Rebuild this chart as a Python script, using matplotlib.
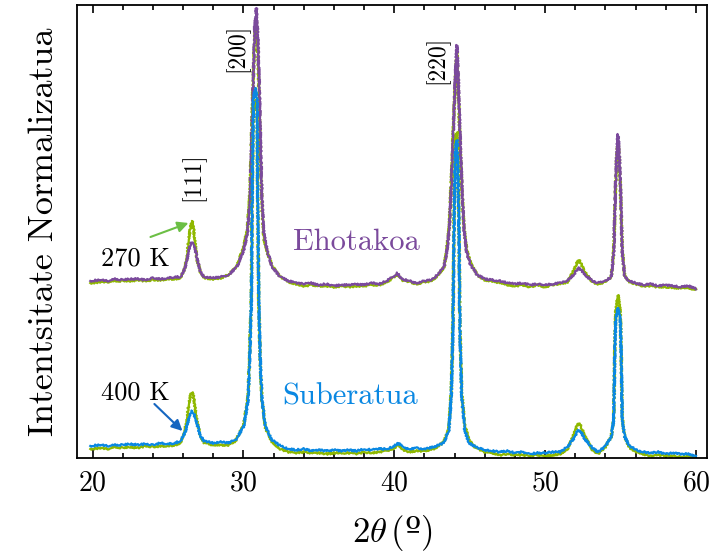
import matplotlib
matplotlib.use("Agg")
import matplotlib.pyplot as plt
from matplotlib.ticker import MultipleLocator

plt.rcParams['font.family'] = ['cmr10', 'DejaVu Serif']
plt.rcParams['mathtext.fontset'] = 'cm'
plt.rcParams['axes.unicode_minus'] = False
plt.rcParams['axes.formatter.use_mathtext'] = True

# --- goiko bikotea (270 K) ---
top_theta = [19.85, 20.5, 21, 21.5, 22, 22.5, 23, 23.5, 24, 24.5, 25, 25.5, 25.8,
             26.04, 26.23, 26.37, 26.5, 26.6, 26.7, 26.77, 26.93, 27.15, 27.4,
             28, 28.5, 29, 29.58, 30.02, 30.27, 30.44, 30.53, 30.62, 30.75, 30.86,
             30.97, 31.08, 31.15, 31.24, 31.35, 31.57, 31.9, 32.45, 33, 33.5, 34,
             34.5, 35, 35.5, 36, 36.5, 37, 37.5, 38, 38.5, 39, 39.5, 39.9, 40.2,
             40.5, 41, 41.5, 42, 42.5, 42.96, 43.3, 43.47, 43.65, 43.8, 43.92,
             44.05, 44.15, 44.25, 44.35, 44.47, 44.62, 44.8, 45.06, 45.5, 46, 46.5,
             47, 47.5, 48, 48.5, 49, 49.5, 50, 50.5, 51, 51.48, 51.92, 52.1, 52.25,
             52.4, 52.58, 53.13, 53.5, 54.0, 54.38, 54.55, 54.66, 54.75, 54.83,
             54.91, 55.0, 55.11, 55.28, 55.6, 56, 56.5, 57, 57.5, 58, 58.5, 59,
             59.5, 60]
ehotakoa = [12, 13, 12, 14, 13, 14, 14, 13, 15, 14, 15, 16, 16,
            21, 31, 43, 49, 51, 49, 46, 35, 21, 16,
            15, 16, 18, 26, 43, 60, 93, 143, 193, 266, 285,
            253, 193, 143, 93, 60, 43, 26, 16, 12, 10, 9,
            10, 8, 9, 7, 8, 8, 9, 8, 10, 9, 12, 16, 20,
            14, 12, 10, 12, 13, 20, 26, 40, 63, 113, 163,
            218, 248, 213, 163, 113, 63, 40, 28, 18, 14, 13,
            12, 10, 9, 10, 8, 9, 8, 9, 10, 12, 19, 23, 25,
            23, 19, 12, 10, 12, 16, 40, 106, 143, 159,
            143, 106, 40, 16, 12, 10, 8, 9, 7, 8, 7, 6,
            7, 4]
top_ref = [10, 11, 11, 12, 12, 12, 13, 12, 13, 13, 14, 14, 15,
           21, 33, 53, 67, 72, 65, 53, 33, 21, 15,
           14, 15, 18, 27, 47, 65, 103, 153, 203, 258, 273,
           233, 173, 128, 83, 55, 41, 27, 16, 11, 9, 7,
           8, 7, 7, 6, 7, 6, 7, 7, 8, 8, 11, 15, 19,
           13, 11, 9, 11, 12, 19, 26, 42, 68, 121, 168,
           213, 241, 198, 153, 108, 65, 43, 30, 18, 13, 12,
           10, 8, 7, 8, 6, 8, 6, 8, 9, 11, 23, 30, 33,
           29, 22, 11, 9, 11, 16, 43, 103, 138, 153,
           135, 101, 43, 17, 11, 9, 7, 7, 6, 6, 5, 5,
           5, 3]
top_offset = 165

# --- beheko bikotea (400 K) ---
bot_theta = [19.85, 20.5, 21, 21.5, 22, 22.5, 23, 23.5, 24, 24.5, 25, 25.5, 25.8,
             26.04, 26.23, 26.37, 26.5, 26.6, 26.7, 26.77, 26.93, 27.15, 27.4,
             28, 28.5, 29, 29.47, 30.02, 30.31, 30.4, 30.53, 30.58, 30.66, 30.8,
             30.91, 30.95, 31.02, 31.13, 31.24, 31.46, 31.9, 32.45, 33, 33.5, 34,
             34.5, 35, 35.5, 36, 36.5, 37, 37.5, 38, 38.5, 39, 39.5, 39.9, 40.3,
             40.6, 41, 41.5, 42, 42.63, 43.29, 43.62, 43.78, 43.89, 43.96, 44.06,
             44.15, 44.22, 44.29, 44.35, 44.47, 44.67, 44.95, 45.4, 46, 46.5, 47,
             47.5, 48, 48.5, 49, 49.5, 50, 50.5, 51, 51.48, 51.92, 52.1, 52.25,
             52.4, 52.58, 53.13, 53.5, 53.95, 54.38, 54.55, 54.62, 54.68, 54.83,
             54.98, 55.04, 55.11, 55.28, 55.6, 56.2, 56.5, 57, 57.5, 58, 58.5, 59,
             59.5, 60]
suberatua = [12, 13, 12, 13, 13, 14, 13, 14, 13, 15, 14, 15, 17,
             22, 30, 40, 45, 47, 45, 42, 34, 22, 17,
             15, 16, 15, 18, 31, 58, 91, 158, 258, 358, 370,
             358, 258, 158, 91, 58, 31, 18, 12, 9, 8, 9,
             7, 8, 7, 8, 7, 8, 7, 9, 8, 9, 9, 11, 15,
             10, 9, 10, 9, 11, 15, 28, 61, 128, 228, 308,
             318, 288, 228, 128, 61, 28, 15, 11, 8, 7, 6,
             7, 5, 6, 4, 5, 5, 6, 6, 11, 20, 26, 28,
             26, 20, 10, 6, 11, 21, 38, 105, 138, 150,
             138, 105, 38, 21, 12, 7, 6, 5, 6, 4, 5, 4,
             4, 2]
bot_ref = [9, 10, 9, 11, 10, 11, 10, 12, 11, 12, 12, 13, 15,
           22, 36, 53, 63, 66, 62, 53, 36, 22, 15,
           13, 13, 13, 17, 33, 63, 98, 168, 263, 348, 358,
           343, 253, 153, 88, 56, 30, 16, 9, 6, 5, 6,
           5, 5, 4, 5, 5, 5, 4, 6, 5, 6, 7, 9, 13,
           8, 6, 7, 7, 9, 16, 30, 68, 138, 238, 318,
           326, 298, 233, 133, 66, 33, 18, 10, 6, 5, 3,
           4, 3, 3, 2, 3, 2, 3, 4, 9, 24, 32, 35,
           31, 23, 8, 4, 10, 21, 40, 113, 148, 163,
           146, 110, 40, 21, 10, 5, 4, 2, 3, 2, 2, 1,
           2, 0]

c_green = '#8fb800'
c_purple = '#7b4a9c'
c_blue = '#0a88e2'

fig = plt.figure(figsize=(7.21, 5.56), dpi=100)
ax = fig.add_axes([0.107, 0.1763, 0.8736, 0.8147])

top_ref_y = [v + top_offset for v in top_ref]
ehotakoa_y = [v + top_offset for v in ehotakoa]

lines = []
lines += ax.plot(top_theta, top_ref_y, color=c_green, lw=1.6)
lines += ax.plot(top_theta, ehotakoa_y, color=c_purple, lw=1.6)
lines += ax.plot(bot_theta, bot_ref, color=c_green, lw=1.6)
lines += ax.plot(bot_theta, suberatua, color=c_blue, lw=1.6)
# zarata itxura marrazkian
for ln in lines:
    ln.set_sketch_params(scale=0.9, length=2.5, randomness=2)

ax.set_xlim(18.98, 60.73)
ax.set_ylim(0, 453)

ax.xaxis.set_major_locator(MultipleLocator(10))
ax.xaxis.set_minor_locator(MultipleLocator(2))
ax.tick_params(which='both', direction='in', top=True, bottom=True,
               left=False, right=False, labelleft=False, width=1.2)
ax.tick_params(which='major', length=6, labelsize=20, pad=9)
ax.tick_params(which='minor', length=3.5)
for sp in ax.spines.values():
    sp.set_linewidth(1.3)

# º ikurra DejaVu Serif letra-tipotik, gainerakoa mathtext-ekin
ax.set_xlabel(r'$2\theta\,($º$)$', fontfamily='DejaVu Serif', fontsize=25, labelpad=12)
ax.set_ylabel('Intentsitate Normalizatua', fontsize=26, labelpad=12)

# gailurren izenak
ax.text(26.65, 281, '[111]', rotation=90, ha='center', va='center', fontsize=17)
ax.text(29.57, 410, '[200]', rotation=90, ha='center', va='center', fontsize=17)
ax.text(42.84, 398, '[220]', rotation=90, ha='center', va='center', fontsize=17)

# laginen izenak
ax.text(37.5, 208, 'Ehotakoa', color=c_purple, ha='center', va='baseline', fontsize=22)
ax.text(37.1, 53, 'Suberatua', color=c_blue, ha='center', va='baseline', fontsize=22)

# tenperaturak eta geziak
ax.text(22.83, 192, '270 K', ha='center', va='baseline', fontsize=19)
ax.text(22.83, 58, '400 K', ha='center', va='baseline', fontsize=19)
ax.annotate('', xy=(26.36, 235), xytext=(23.84, 221),
            arrowprops=dict(arrowstyle='-|>', color='#6cbf45', lw=1.5, mutation_scale=16,
                            shrinkA=0, shrinkB=0))
ax.annotate('', xy=(25.96, 27), xytext=(24.1, 54),
            arrowprops=dict(arrowstyle='-|>', color='#1666c0', lw=1.5, mutation_scale=16,
                            shrinkA=0, shrinkB=0))

fig.savefig('out.png', dpi=100)
